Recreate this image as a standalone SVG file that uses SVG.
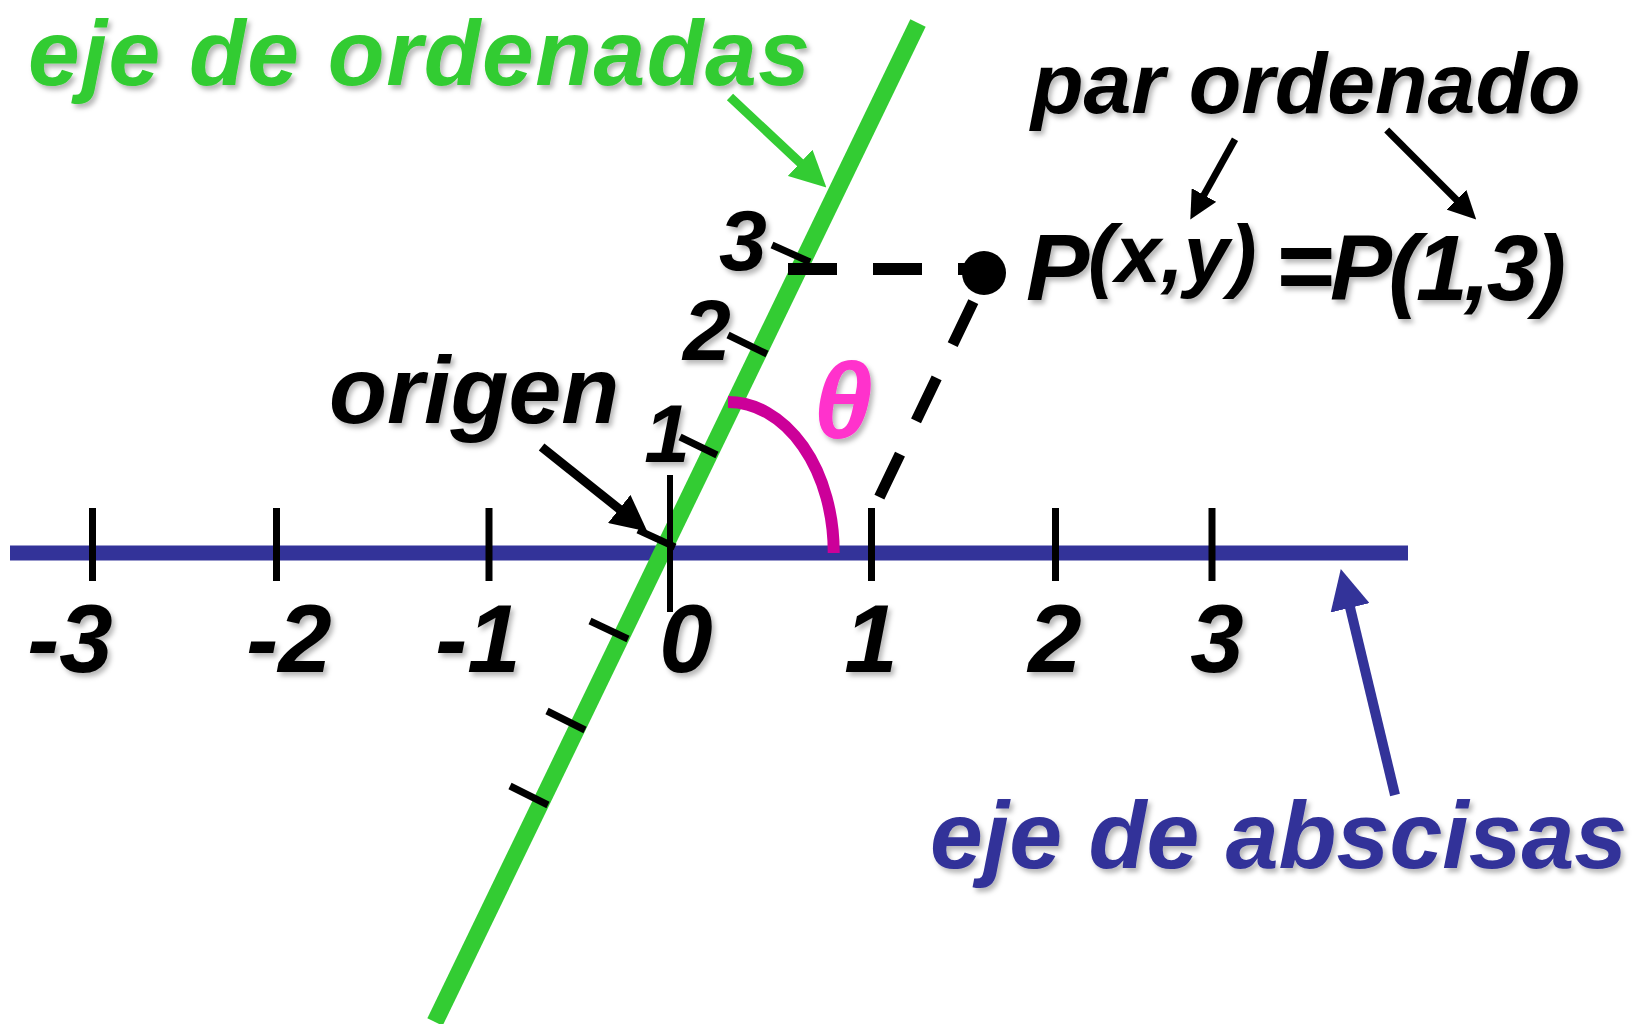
<svg xmlns="http://www.w3.org/2000/svg" width="1649" height="1024" viewBox="0 0 1649 1024">
<defs>
<style>
text { font-family: "Liberation Sans", Arial, Helvetica, sans-serif; font-weight: bold; font-style: italic; }
.sh { filter: url(#shadow); }
.tick { stroke: #000; stroke-width: 7; fill: none; }
.xtick { stroke: #000; stroke-width: 7; fill: none; }
.num { font-size: 96px; fill: #000; text-anchor: middle; }
.ynum { fill: #000; text-anchor: middle; }
.dash { stroke: #000; fill: none; }
.arK { stroke: #000; fill: none; marker-end: url(#ahK); }
</style>
<filter id="shadow" x="-10%" y="-20%" width="130%" height="150%">
<feDropShadow dx="3" dy="4" stdDeviation="2.5" flood-color="#000" flood-opacity="0.28"/>
</filter>
<marker id="ahK" viewBox="0 0 4 4" refX="0.1" refY="2" markerWidth="4" markerHeight="4" orient="auto"><path d="M0,0 L4,2 L0,4 z" fill="#000"/></marker>
<marker id="ahG" viewBox="0 0 4 4" refX="0.1" refY="2" markerWidth="4" markerHeight="4" orient="auto"><path d="M0,0 L4,2 L0,4 z" fill="#33cc33"/></marker>
<marker id="ahB" viewBox="0 0 4 4" refX="0.1" refY="2" markerWidth="4" markerHeight="4" orient="auto"><path d="M0,0 L4,2 L0,4 z" fill="#333399"/></marker>
</defs>
<rect x="0" y="0" width="1649" height="1024" fill="#fff"/>

<g id="eje-abscisas-linea">
<line x1="10" y1="553" x2="1408" y2="553" stroke="#333399" stroke-width="15"/>
</g>

<g id="eje-ordenadas-linea">
<line x1="918" y1="23" x2="435" y2="1022" stroke="#33cc33" stroke-width="17"/>
</g>

<g id="x-ticks">
<line class="xtick" x1="92.5" y1="508" x2="92.5" y2="581"/>
<line class="xtick" x1="276.5" y1="508" x2="276.5" y2="581"/>
<line class="xtick" x1="489" y1="508" x2="489" y2="581"/>
<line x1="670" y1="475" x2="670" y2="612" stroke="#000" stroke-width="6"/>
<line class="xtick" x1="871.5" y1="508" x2="871.5" y2="581"/>
<line class="xtick" x1="1055.5" y1="508" x2="1055.5" y2="581"/>
<line class="xtick" x1="1212" y1="508" x2="1212" y2="581"/>
</g>

<g id="y-ticks">
<line class="tick" x1="772" y1="245" x2="810" y2="262"/>
<line class="tick" x1="728" y1="335" x2="767" y2="354"/>
<line class="tick" x1="680" y1="437" x2="717" y2="455"/>
<line class="tick" x1="638" y1="530" x2="675" y2="547"/>
<line class="tick" x1="590" y1="621" x2="628" y2="639"/>
<line class="tick" x1="547" y1="711" x2="585" y2="730"/>
<line class="tick" x1="510" y1="786" x2="548" y2="805"/>
</g>

<g id="angulo">
<path d="M728,402 A105.7,150 0 0 1 833.7,553" fill="none" stroke="#cc0099" stroke-width="12"/>
<text class="sh" x="843" y="438" font-size="107" fill="#ff33cc" text-anchor="middle">θ</text>
</g>

<g id="proyecciones">
<line class="dash" x1="788" y1="269" x2="975" y2="269" stroke-width="12" stroke-dasharray="49 36"/>
<line class="dash" x1="973.3" y1="301.7" x2="878" y2="500" stroke-width="11" stroke-dasharray="47.6 37"/>
</g>

<g id="punto-P">
<circle cx="984" cy="273" r="22" fill="#000"/>
</g>

<g id="x-labels">
<text class="num sh" x="70" y="672">-3</text>
<text class="num sh" x="289" y="672">-2</text>
<text class="num sh" x="478" y="672">-1</text>
<text class="num sh" x="686" y="672">0</text>
<text class="num sh" x="871" y="672">1</text>
<text class="num sh" x="1055" y="672">2</text>
<text class="num sh" x="1217" y="672">3</text>
</g>

<g id="y-labels">
<text class="ynum sh" x="667" y="462" font-size="82">1</text>
<text class="ynum sh" x="707" y="360" font-size="86">2</text>
<text class="ynum sh" x="743" y="270" font-size="86">3</text>
</g>

<g id="label-eje-ordenadas">
<text class="sh" x="28" y="85" font-size="93" fill="#33cc33" textLength="782">eje de ordenadas</text>
</g>

<g id="label-par-ordenado">
<text class="sh" x="1031" y="113" font-size="86" fill="#000">par ordenado</text>
</g>

<g id="label-P">
<text class="sh" x="1026" y="300" font-size="95" fill="#000">P</text>
<text class="sh" x="1088" y="282" font-size="82" fill="#000">(x,y)</text>
<text class="sh" x="1277" y="300" font-size="100" fill="#000" style="font-style:normal">=</text>
<text class="sh" x="1330" y="300" font-size="93" fill="#000" textLength="236">P(1,3)</text>
</g>

<g id="label-origen">
<text class="sh" x="329" y="423" font-size="95" fill="#000">origen</text>
</g>

<g id="label-eje-abscisas">
<text class="sh" x="930" y="868" font-size="95" fill="#333399">eje de abscisas</text>
</g>

<g id="connectors">
<line x1="730" y1="97" x2="800.8" y2="163.4" stroke="#33cc33" stroke-width="9" marker-end="url(#ahG)"/>
<line class="arK" x1="1235" y1="139.3" x2="1203.6" y2="195.6" stroke-width="7"/>
<line class="arK" x1="1386.7" y1="130" x2="1456.9" y2="200.2" stroke-width="7"/>
<line class="arK" x1="541.6" y1="447" x2="619.9" y2="509.5" stroke-width="9"/>
<line x1="1395" y1="795" x2="1349.9" y2="606.9" stroke="#333399" stroke-width="10" marker-end="url(#ahB)"/>
</g>
</svg>
